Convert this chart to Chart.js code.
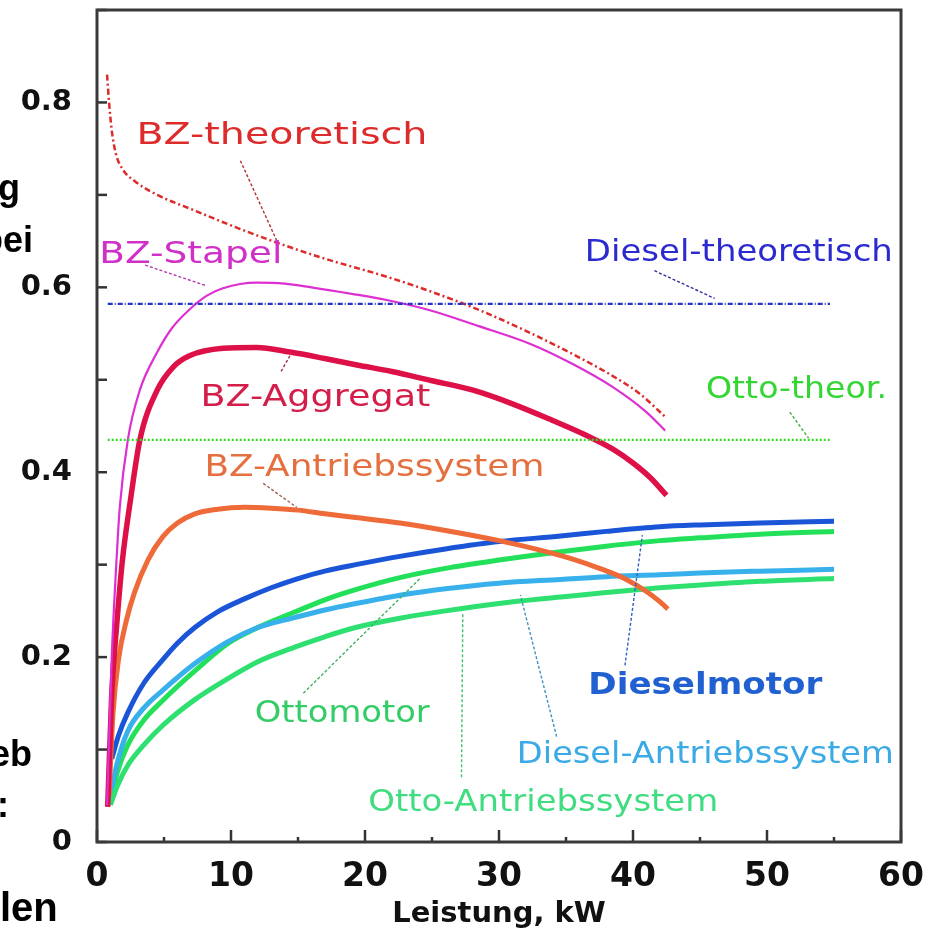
<!DOCTYPE html>
<html>
<head>
<meta charset="utf-8">
<script src="https://cdn.jsdelivr.net/npm/chart.js@4.4.1/dist/chart.umd.min.js"></script>
<style>
  html, body { margin: 0; padding: 0; background: #fff; }
  #wrap { position: relative; width: 942px; height: 932px; overflow: hidden; }
  #chart { position: absolute; left: 0; top: 0; }
  .cut { position: absolute; font-family: "Liberation Sans", Arial, sans-serif; font-weight: bold; color: #000; white-space: nowrap; line-height: 1; }
</style>
</head>
<body>
<div id="wrap">
  <canvas id="chart" width="942" height="932"></canvas>
  <!-- slide text cut off at the left edge -->
  <div class="cut" style="left:-2px; top:170px; font-size:36px;">g</div>
  <div class="cut" style="left:-19px; top:222px; font-size:36px;">bei</div>
  <div class="cut" style="left:-10px; top:736px; font-size:36px;">eb</div>
  <div class="cut" style="left:-3px; top:787px; font-size:36px;">:</div>
  <div class="cut" style="left:0px; top:887px; font-size:40px;">len</div>
</div>
<script>
// === DATA ===
const xTickLabels = [0, 10, 20, 30, 40, 50, 60];
const yTickLabels = ['0', '0.2', '0.4', '0.6', '0.8'];

const bzTheoX = [0.75, 0.9, 1.1, 1.4, 1.9, 2.8, 4.5, 7.3, 10, 13.3, 17, 21.5, 25, 28.6, 32, 36, 38.5, 40.5, 42.4];
const bzTheoY = [0.83, 0.80, 0.77, 0.745, 0.728, 0.715, 0.700, 0.683, 0.667, 0.649, 0.631, 0.612, 0.595, 0.575, 0.553, 0.524, 0.504, 0.485, 0.46];

const bzStapelX = [0.75, 1.1, 1.4, 1.7, 2.3, 3.2, 4.5, 5.6, 6.9, 8.2, 9.4, 11.9, 14, 16, 19, 21.7, 24.9, 28.5, 32.3, 35.5, 38.5, 41, 42.4];
const bzStapelY = [0.04, 0.20, 0.29, 0.362, 0.435, 0.489, 0.530, 0.556, 0.576, 0.591, 0.599, 0.605, 0.604, 0.600, 0.593, 0.586, 0.575, 0.558, 0.539, 0.517, 0.492, 0.465, 0.445];

const bzAggX = [0.8, 1.1, 1.5, 1.9, 2.5, 3.2, 4.5, 5.7, 6.9, 9.4, 11.9, 14.4, 17, 19.4, 22, 25, 28, 31, 34, 36.5, 38.5, 40, 41.3, 42.5];
const bzAggY = [0.038, 0.16, 0.24, 0.305, 0.37, 0.435, 0.489, 0.514, 0.526, 0.534, 0.535, 0.530, 0.523, 0.516, 0.509, 0.499, 0.489, 0.474, 0.456, 0.440, 0.425, 0.410, 0.394, 0.375];

const bzAntrX = [0.9, 1.2, 1.6, 2.2, 2.8, 3.8, 4.9, 6, 7.3, 9, 11, 13, 15, 17, 19.3, 22.6, 26, 30, 33, 35.5, 37.5, 39.5, 41, 42, 42.6];
const bzAntrY = [0.05, 0.14, 0.197, 0.24, 0.27, 0.305, 0.33, 0.345, 0.355, 0.360, 0.362, 0.361, 0.359, 0.355, 0.351, 0.345, 0.337, 0.326, 0.316, 0.306, 0.296, 0.284, 0.271, 0.260, 0.252];

const dieselX = [1.1, 1.6, 2.3, 3.5, 4.9, 6, 7.3, 9, 11, 13, 15, 17, 19.3, 22.6, 26, 30, 34.6, 38, 42, 45, 49.5, 55];
const dieselY = [0.09, 0.115, 0.14, 0.172, 0.197, 0.215, 0.232, 0.249, 0.263, 0.275, 0.285, 0.293, 0.300, 0.309, 0.317, 0.325, 0.331, 0.336, 0.341, 0.343, 0.345, 0.347];

const engineX = [1.0, 1.5, 2.3, 3.5, 4.9, 7.3, 9.8, 12, 14.8, 17, 19.3, 22.6, 26, 30, 34.6, 38, 42, 45, 49.5, 55];
const ottoY = [0.045, 0.075, 0.105, 0.132, 0.153, 0.185, 0.215, 0.232, 0.249, 0.262, 0.273, 0.286, 0.296, 0.305, 0.314, 0.320, 0.326, 0.329, 0.333, 0.336];
const dieselAntrY = [0.05, 0.085, 0.12, 0.145, 0.164, 0.193, 0.217, 0.232, 0.243, 0.251, 0.258, 0.267, 0.274, 0.280, 0.284, 0.287, 0.289, 0.291, 0.293, 0.295];
const ottoAntrY = [0.04, 0.06, 0.083, 0.105, 0.126, 0.154, 0.177, 0.195, 0.211, 0.222, 0.232, 0.242, 0.250, 0.258, 0.265, 0.270, 0.275, 0.278, 0.282, 0.285];

const theorX = [0.8, 54.7];
const dieselTheorY = [0.582, 0.582];
const ottoTheorY = [0.435, 0.435];

// curve labels: text, position in data units, width in px
const curveLabels = [
  { text: 'BZ-theoretisch', x: 13.8, y: 0.764, w: 291, color: '#dd2a2a' },
  { text: 'BZ-Stapel', x: 7.0, y: 0.635, w: 183, color: '#d030c8' },
  { text: 'Diesel-theoretisch', x: 47.9, y: 0.637, w: 308, color: '#2a2ad0' },
  { text: 'BZ-Aggregat', x: 16.3, y: 0.48, w: 230, color: '#d41e4a' },
  { text: 'Otto-theor.', x: 52.2, y: 0.489, w: 181, color: '#33d633' },
  { text: 'BZ-Antriebssystem', x: 20.7, y: 0.404, w: 340, color: '#e5703f' },
  { text: 'Dieselmotor', x: 45.4, y: 0.168, w: 234, color: '#2060d0', bold: true },
  { text: 'Ottomotor', x: 18.3, y: 0.138, w: 175, color: '#33cc66' },
  { text: 'Diesel-Antriebssystem', x: 45.4, y: 0.094, w: 377, color: '#3aaae6' },
  { text: 'Otto-Antriebssystem', x: 33.3, y: 0.042, w: 350, color: '#40dd80' }
];

const leaders = [
  { x1: 10.7, y1: 0.737, x2: 13.4, y2: 0.651, color: '#b03030' },
  { x1: 3.6, y1: 0.624, x2: 8.1, y2: 0.602, color: '#b040b0' },
  { x1: 41.6, y1: 0.618, x2: 46.1, y2: 0.588, color: '#3030a0' },
  { x1: 14.4, y1: 0.526, x2: 13.7, y2: 0.508, color: '#a03050' },
  { x1: 51.7, y1: 0.465, x2: 53.1, y2: 0.437, color: '#40b040' },
  { x1: 12.4, y1: 0.388, x2: 14.9, y2: 0.362, color: '#a06050' },
  { x1: 39.4, y1: 0.191, x2: 40.7, y2: 0.332, color: '#3060c0' },
  { x1: 15.4, y1: 0.161, x2: 24.1, y2: 0.285, color: '#40b060' },
  { x1: 34.3, y1: 0.114, x2: 31.6, y2: 0.267, color: '#4090c0' },
  { x1: 27.2, y1: 0.07, x2: 27.3, y2: 0.248, color: '#40c070' }
];

function pts(xs, ys) {
  return xs.map(function(v, i) { return { x: v, y: ys[i] }; });
}

function curve(xs, ys, color, width, dash) {
  return {
    data: pts(xs, ys),
    borderColor: color,
    borderWidth: width,
    borderDash: dash || [],
    pointRadius: 0,
    showLine: true,
    fill: false,
    cubicInterpolationMode: 'monotone'
  };
}

// frame, inward ticks, curve labels and leader lines
const decorPlugin = {
  id: 'decor',
  afterDatasetsDraw(chart) {
    const ctx = chart.ctx;
    const xs = chart.scales.x, ys = chart.scales.y;
    const a = chart.chartArea;
    ctx.save();

    ctx.lineWidth = 1.4;
    ctx.setLineDash([3, 2]);
    leaders.forEach(function(l) {
      ctx.strokeStyle = l.color;
      ctx.beginPath();
      ctx.moveTo(xs.getPixelForValue(l.x1), ys.getPixelForValue(l.y1));
      ctx.lineTo(xs.getPixelForValue(l.x2), ys.getPixelForValue(l.y2));
      ctx.stroke();
    });
    ctx.setLineDash([]);

    curveLabels.forEach(function(t) {
      ctx.font = (t.bold ? 'bold ' : '') + '30px "DejaVu Sans"';
      const m = ctx.measureText(t.text).width;
      ctx.save();
      ctx.translate(xs.getPixelForValue(t.x), ys.getPixelForValue(t.y));
      ctx.scale(t.w / m, 1);
      ctx.textAlign = 'center';
      ctx.textBaseline = 'middle';
      ctx.fillStyle = t.color;
      ctx.fillText(t.text, 0, 0);
      ctx.restore();
    });

    // ticks pointing into the plot
    ctx.strokeStyle = '#333';
    ctx.lineWidth = 2.5;
    xs.ticks.forEach(function(t) {
      const px = xs.getPixelForValue(t.value);
      const len = Math.round(t.value) % 10 === 0 ? 12 : 5;
      ctx.beginPath();
      ctx.moveTo(px, a.bottom);
      ctx.lineTo(px, a.bottom - len);
      ctx.stroke();
    });
    ys.ticks.forEach(function(t) {
      const py = ys.getPixelForValue(t.value);
      ctx.beginPath();
      ctx.moveTo(a.left, py);
      ctx.lineTo(a.left + 10, py);
      ctx.stroke();
    });

    ctx.lineWidth = 3;
    ctx.strokeStyle = '#3a3a3a';
    ctx.strokeRect(a.left, a.top, a.right - a.left, a.bottom - a.top);
    ctx.restore();
  }
};

const ctx = document.getElementById('chart').getContext('2d');
new Chart(ctx, {
  type: 'scatter',
  data: {
    datasets: [
      curve(theorX, dieselTheorY, '#2233cc', 2.2, [5, 2, 1, 2]),
      curve(theorX, ottoTheorY, '#33dd22', 2.2, [2, 2]),
      curve(bzTheoX, bzTheoY, '#dd2a2a', 2.5, [6, 3, 2, 3]),
      curve(bzStapelX, bzStapelY, '#dd30d0', 2.2),
      curve(bzAggX, bzAggY, '#dd1148', 5.5),
      curve(bzAntrX, bzAntrY, '#ee6a38', 5),
      curve(engineX, ottoAntrY, '#2ee070', 5),
      curve(engineX, dieselAntrY, '#38b0ec', 5),
      curve(engineX, ottoY, '#22e05a', 5),
      curve(dieselX, dieselY, '#1a55d8', 5)
    ]
  },
  options: {
    responsive: false,
    animation: false,
    layout: { padding: { top: 10, right: 41, left: 0, bottom: 0 } },
    plugins: {
      legend: { display: false },
      tooltip: { enabled: false }
    },
    scales: {
      x: {
        type: 'linear',
        min: xTickLabels[0],
        max: xTickLabels[xTickLabels.length - 1],
        grid: { display: false, drawTicks: false },
        border: { display: false },
        afterFit: function(scale) {
          scale.height = 90;
          scale.paddingLeft = 0;
          scale.paddingRight = 0;
        },
        ticks: {
          stepSize: 5,
          padding: 16,
          color: '#111',
          font: { family: 'DejaVu Sans', size: 33, weight: 'bold' },
          callback: function(value) {
            return xTickLabels.indexOf(Math.round(value)) >= 0 && value % 10 === 0 ? String(value) : '';
          }
        },
        title: {
          display: true,
          text: 'Leistung, kW',
          color: '#111',
          padding: { top: 0, bottom: 0 },
          font: { family: 'DejaVu Sans', size: 29, weight: 'bold' }
        }
      },
      y: {
        type: 'linear',
        min: 0,
        max: 0.9,
        grid: { display: false, drawTicks: false },
        border: { display: false },
        afterFit: function(scale) {
          scale.width = 97;
          scale.paddingTop = 0;
          scale.paddingBottom = 0;
        },
        ticks: {
          stepSize: 0.1,
          padding: 25,
          color: '#111',
          font: { family: 'DejaVu Sans', size: 29, weight: 'bold' },
          callback: function(value) {
            const s = String(Math.round(value * 10) / 10);
            return yTickLabels.indexOf(s) >= 0 ? s : '';
          }
        }
      }
    }
  },
  plugins: [decorPlugin]
});
</script>
</body>
</html>
